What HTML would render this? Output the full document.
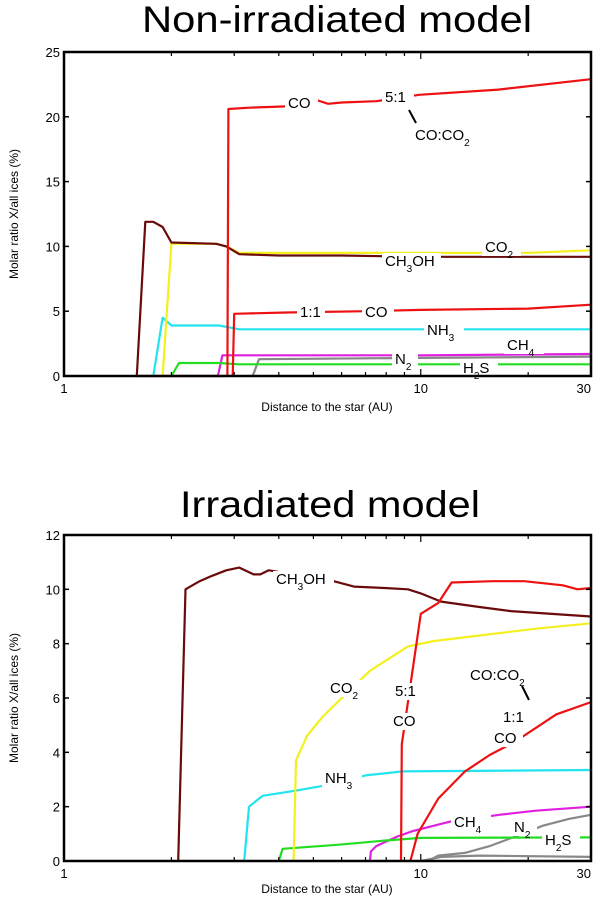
<!DOCTYPE html>
<html><head><meta charset="utf-8">
<style>
html,body{margin:0;padding:0;background:#fff;}
svg{display:block;font-family:"Liberation Sans",sans-serif;}
</style></head>
<body>
<svg id="fig" width="600" height="902" viewBox="0 0 600 902">
<text x="337" y="32" font-size="37" text-anchor="middle" textLength="390" lengthAdjust="spacingAndGlyphs">Non-irradiated model</text>
<text x="330" y="517" font-size="37" text-anchor="middle" textLength="300" lengthAdjust="spacingAndGlyphs">Irradiated model</text>
<g id="top"></g>
<g id="bot"></g>
</svg>
<script>
// ---- Top chart data (x in AU, y in %) ----
const topYTicks = [0,5,10,15,20,25];
const xTickLabels = ["1","10","30"];
const xTickValues = [1,10,30];
const topBrownX = [1.6,1.69,1.78,1.89,2.0,2.67,2.85,3.1,4,6,10,20,30];
const topBrownY = [0,11.9,11.9,11.5,10.3,10.2,10.0,9.4,9.3,9.3,9.2,9.2,9.2];
const topYellowX = [1.89,2.0,2.67,2.85,3.1,5,10,20,30];
const topYellowY = [0,10.2,10.2,10.0,9.5,9.5,9.5,9.5,9.7];
const topCyanX = [1.78,1.89,2.0,2.72,3.1,10,30];
const topCyanY = [0,4.5,3.9,3.9,3.6,3.6,3.6];
const topGreenX = [2.0,2.1,2.72,3.1,30];
const topGreenY = [0,1.0,1.0,0.9,0.9];
const topMagX = [2.7,2.78,10,30];
const topMagY = [0,1.6,1.6,1.7];
const topGrayX = [3.38,3.52,10,30];
const topGrayY = [0,1.3,1.4,1.5];
const topRed51X = [2.87,2.89,3.3,4.2,5.1,5.5,6.0,7.5,9.9,16.5,30];
const topRed51Y = [0,20.6,20.7,20.8,21.3,21.0,21.1,21.2,21.7,22.1,22.9];
const topRed11X = [2.97,3.0,4.2,7,10,20,30];
const topRed11Y = [0,4.8,4.9,5.0,5.1,5.2,5.5];
const topRedBaseX = [1.6,2.87];
const topRedBaseY = [0,0];

// ---- Bottom chart data ----
const botYTicks = [0,2,4,6,8,10,12];
const botBrownX = [2.09,2.19,2.4,2.6,2.85,3.1,3.4,3.55,3.75,5.7,6.5,7.9,9.2,10.0,11.4,14.6,17.9,30];
const botBrownY = [0,10.0,10.3,10.5,10.7,10.8,10.55,10.55,10.7,10.3,10.1,10.05,10.0,9.85,9.55,9.35,9.2,9.0];
const botRed51X = [8.8,8.85,10.0,11.2,12.2,15.9,19.5,25,27.5,30];
const botRed51Y = [0,4.3,9.1,9.5,10.25,10.3,10.3,10.15,10.0,10.05];
const botRed11X = [9.35,9.8,11.2,13.3,15.6,18.4,24,30];
const botRed11Y = [0,1.0,2.3,3.3,3.9,4.4,5.4,5.85];
const botYellowX = [4.4,4.47,4.8,5.3,5.9,7.2,9.2,10.9,14.6,21,30];
const botYellowY = [0,3.7,4.6,5.3,5.9,7.0,7.9,8.1,8.3,8.55,8.75];
const botCyanX = [3.2,3.3,3.6,4.5,5.5,7.0,8.9,30];
const botCyanY = [0,2.0,2.4,2.6,2.8,3.15,3.3,3.35];
const botGreenX = [4.0,4.1,5.9,7.9,10,30];
const botGreenY = [0,0.45,0.6,0.75,0.85,0.87];
const botMagX = [7.2,7.25,7.5,8.6,9.5,12.1,16.6,21,30];
const botMagY = [0,0.35,0.55,0.9,1.1,1.45,1.7,1.85,2.0];
const botGrayX = [10.5,11.2,13.3,15.6,18.4,22,26,30];
const botGrayY = [0,0.2,0.3,0.55,0.9,1.3,1.55,1.7];
const botGrayLowX = [10.0,11.4,14.6,30];
const botGrayLowY = [0,0.15,0.2,0.15];

const NS="http://www.w3.org/2000/svg";
function mk(tag,attrs,parent){const e=document.createElementNS(NS,tag);for(const k in attrs)e.setAttribute(k,attrs[k]);parent.appendChild(e);return e;}

function makeAxes(L,R,T,B,ymax){
  const sx=v=>L+(R-L)*Math.log10(v)/Math.log10(30);
  const sy=v=>B-(B-T)*v/ymax;
  return {sx,sy};
}

function drawChart(g,L,R,T,B,ymax,yticks,series,labels,xtitleY){
  const {sx,sy}=makeAxes(L,R,T,B,ymax);
  series.forEach(s=>{
    const d=s.x.map((v,i)=>(i?'L':'M')+sx(v).toFixed(1)+','+sy(s.y[i]).toFixed(1)).join('');
    const p=mk('path',{d:d,fill:'none',stroke:s.c,'stroke-width':2.2,'stroke-linejoin':'round'},g);
    
    
  });
  labels.forEach(l=>{
    if(l.line){const ln=mk('line',{x1:l.line[0],y1:l.line[1],x2:l.line[2],y2:l.line[3],stroke:'#000','stroke-width':2},g);
      return;}
    const r=mk('rect',{x:l.x-3,y:l.y-13,width:l.w+6,height:17,fill:'#fff'},g);
    
    const t=mk('text',{x:l.x,y:l.y,'font-size':15},g);
    t.innerHTML=l.t;
    
    
  });
  const box=mk('rect',{x:L,y:T,width:R-L,height:B-T,fill:'none',stroke:'#000','stroke-width':2.5},g);
  
  yticks.forEach(v=>{
    const y=sy(v);
    mk('line',{x1:L,y1:y,x2:L+5,y2:y,stroke:'#000','stroke-width':1.5},g);
    mk('line',{x1:R,y1:y,x2:R-5,y2:y,stroke:'#000','stroke-width':1.5},g);
    const t=mk('text',{x:L-4,y:y+5,'font-size':13,'text-anchor':'end'},g);
    t.textContent=v;
    
    
  });
  [2,3,4,5,6,7,8,9,10,20,30].forEach(v=>{
    const x=sx(v);const h=v===10?7:4;
    mk('line',{x1:x,y1:B,x2:x,y2:B-h,stroke:'#000','stroke-width':1.2},g);
    mk('line',{x1:x,y1:T,x2:x,y2:T+h,stroke:'#000','stroke-width':1.2},g);
  });
  xTickValues.forEach((v,i)=>{
    const t=mk('text',{x:sx(v),y:B+17,'font-size':13,'text-anchor':i==2?'end':'middle'},g);
    t.textContent=xTickLabels[i];
    
    
  });
  const xt=mk('text',{x:327,y:xtitleY,'font-size':12,'text-anchor':'middle'},g);
  xt.textContent='Distance to the star  (AU)';
  
  
  const cy=(T+B)/2;
  const yt=mk('text',{x:0,y:0,'font-size':12,'text-anchor':'middle',transform:`translate(18,${cy}) rotate(-90)`},g);
  yt.textContent='Molar ratio X/all ices  (%)';
  
  
}
const sub=s=>`<tspan baseline-shift="sub" font-size="10">${s}</tspan>`;

drawChart(document.getElementById('top'),64,591,52,376,25,topYTicks,[
 {n:'top-ch4-line',c:'#e020e0',x:topMagX,y:topMagY},
 {n:'top-n2-line',c:'#888',x:topGrayX,y:topGrayY},
 {n:'top-h2s-line',c:'#22dd22',x:topGreenX,y:topGreenY},
 {n:'top-nh3-line',c:'#22e4ee',x:topCyanX,y:topCyanY},
 {n:'top-co2-line',c:'#f4f020',x:topYellowX,y:topYellowY},
 {n:'top-ch3oh-line',c:'#6a0a0a',x:topBrownX,y:topBrownY},
 {n:'top-co-5to1-line',c:'#ee1111',x:topRed51X,y:topRed51Y},
 {n:'top-co-1to1-line',c:'#ee1111',x:topRed11X,y:topRed11Y},
 {n:'top-red-baseline',c:'#ee1111',x:topRedBaseX,y:topRedBaseY}
],[
 {x:288,y:108,w:27,t:'CO'},
 {x:385,y:102,w:26,t:'5:1'},
 {line:[409,110,416,123]},
 {x:415,y:140,w:60,t:'CO:CO'+sub('2')},
 {x:485,y:252,w:33,t:'CO'+sub('2')},
 {x:385,y:266,w:53,t:'CH'+sub('3')+'OH'},
 {x:300,y:317,w:22,t:'1:1'},
 {x:365,y:317,w:26,t:'CO'},
 {x:427,y:335,w:34,t:'NH'+sub('3')},
 {x:507,y:350,w:34,t:'CH'+sub('4')},
 {x:395,y:364,w:20,t:'N'+sub('2')},
 {x:463,y:373,w:32,t:'H'+sub('2')+'S'}
],411);

drawChart(document.getElementById('bot'),64,591,535,861,12,botYTicks,[
 {n:'bot-gray-low-line',c:'#888',x:botGrayLowX,y:botGrayLowY},
 {n:'bot-n2-line',c:'#888',x:botGrayX,y:botGrayY},
 {n:'bot-ch4-line',c:'#e020e0',x:botMagX,y:botMagY},
 {n:'bot-h2s-line',c:'#22dd22',x:botGreenX,y:botGreenY},
 {n:'bot-nh3-line',c:'#22e4ee',x:botCyanX,y:botCyanY},
 {n:'bot-co2-line',c:'#f4f020',x:botYellowX,y:botYellowY},
 {n:'bot-ch3oh-line',c:'#6a0a0a',x:botBrownX,y:botBrownY},
 {n:'bot-co-5to1-line',c:'#ee1111',x:botRed51X,y:botRed51Y},
 {n:'bot-co-1to1-line',c:'#ee1111',x:botRed11X,y:botRed11Y}
],[
 {x:276,y:584,w:55,t:'CH'+sub('3')+'OH'},
 {x:330,y:693,w:33,t:'CO'+sub('2')},
 {x:395,y:696,w:22,t:'5:1'},
 {x:393,y:726,w:25,t:'CO'},
 {x:470,y:680,w:60,t:'CO:CO'+sub('2')},
 {line:[522,686,529,700]},
 {x:503,y:722,w:22,t:'1:1'},
 {x:494,y:743,w:26,t:'CO'},
 {x:325,y:783,w:34,t:'NH'+sub('3')},
 {x:454,y:827,w:34,t:'CH'+sub('4')},
 {x:514,y:832,w:20,t:'N'+sub('2')},
 {x:545,y:845,w:32,t:'H'+sub('2')+'S'}
],893);
</script>
</body></html>
